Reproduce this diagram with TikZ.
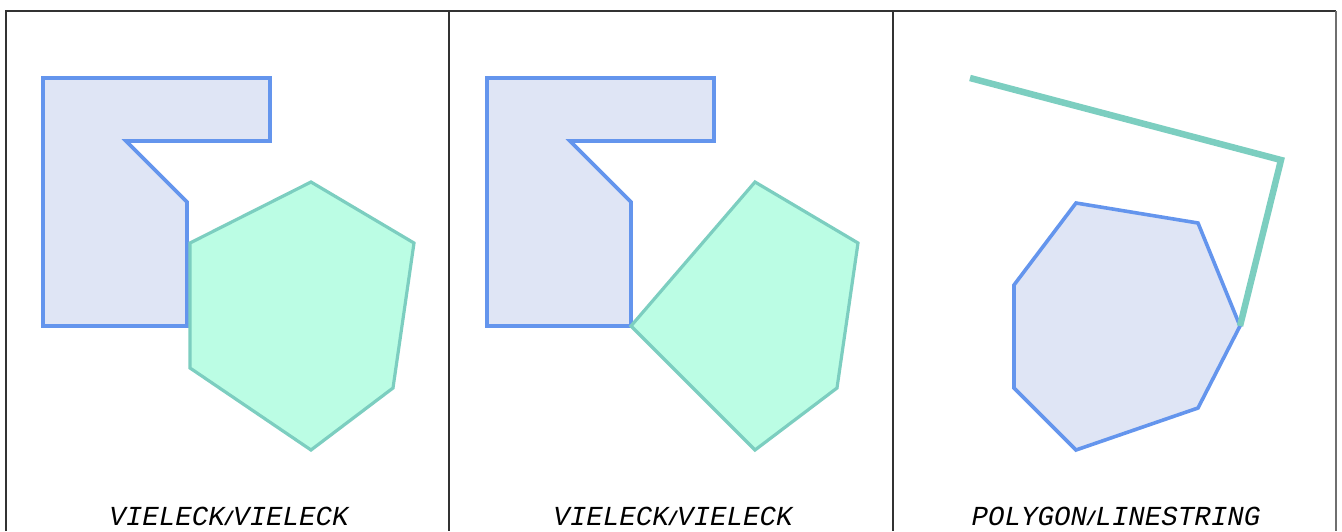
\documentclass[tikz,border=0pt]{standalone}
\usepackage{fontspec}
\newfontfamily\labelfont{Liberation Mono}
\definecolor{myb}  {RGB}{100, 149, 237}
\definecolor{mybf} {RGB}{223, 229, 245}
\definecolor{myg}  {RGB}{124, 206, 192}
\definecolor{mygf} {RGB}{187, 253, 228}
\definecolor{myk}  {RGB}{50, 50, 50}
\newcommand{\sep}{{\fontsize{20}{22}\selectfont\bfseries\upshape\kern-2pt/\kern-2pt}}

\begin{document}
\begin{tikzpicture}[
			x=1pt, y=-1pt,
			polya/.style={draw=myb, fill=mybf, line width=3.6pt, line join=miter},
			polyb/.style={draw=myg, fill=mygf, line width=3.2pt, line join=miter},
			strand/.style={draw=myg, line width=6.5pt, line join=miter},
			frame/.style={draw=myk, line width=1.8pt},
			caption/.style={font=\labelfont\itshape\fontsize{27.5}{30}\selectfont, inner sep=0pt, anchor=base},
			]
			\useasboundingbox (0,0) rectangle (1342,531);
			% frame and panel rules
			\draw[frame] (6,531) -- (6,11) -- (1336,11);
			\draw[frame, myk!70] (1336,11) -- (1336,531);
			\draw[frame] (449,11) -- (449,531);
			\draw[frame] (893,11) -- (893,531);
			% panels 1 and 2 share the same first shape
			\foreach \dx in {0, 444}
			\draw[polya, xshift=\dx] (43,78) -- (270,78) -- (270,141) -- (126,141) -- (187,202) -- (187,326) -- (43,326) -- cycle;
			\draw[polyb] (190,243) -- (311,182) -- (414,243) -- (393,388) -- (311,450) -- (190,368) -- cycle;
			\draw[polyb] (631,326) -- (755,182) -- (858,243) -- (837,388) -- (755,450) -- cycle;
			% panel 3
			\draw[polya] (1076,203) -- (1198,223) -- (1240,326) -- (1198,408) -- (1076,450) -- (1014,388) -- (1014,285) -- cycle;
			\draw[strand] (970,78) -- (1281,160) -- (1240,326);
			% captions
			\node[caption] (capa) at (229,525) {VIELECK\sep VIELECK};
			\node[caption] (capb) at (673,525) {VIELECK\sep VIELECK};
			\node[caption] (capc) at (1116,525) {POLYGON\sep LINESTRING};
	\end{tikzpicture}
\end{document}
